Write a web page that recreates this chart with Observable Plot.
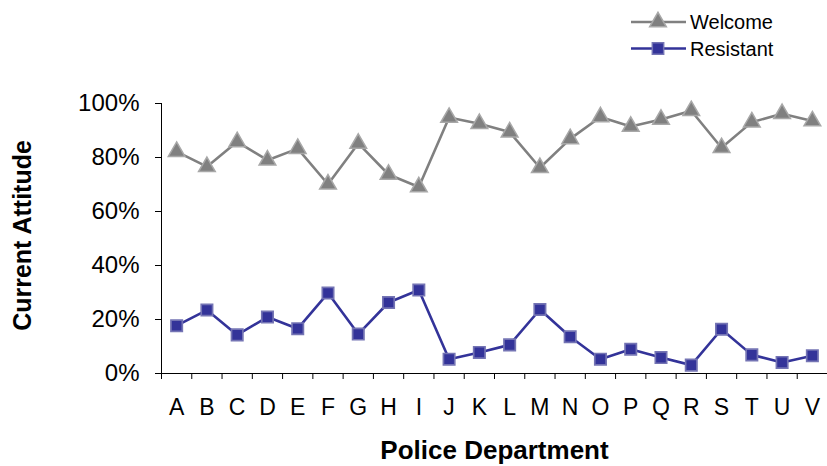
<!DOCTYPE html>
<html>
<head>
<meta charset="utf-8">
<script src="https://cdn.jsdelivr.net/npm/d3@7"></script>
<script src="https://cdn.jsdelivr.net/npm/@observablehq/plot@0.6"></script>
<style>
  html, body { margin: 0; padding: 0; background: #fff; }
  #wrap { position: relative; width: 827px; height: 466px; font-family: "Liberation Sans", Arial, sans-serif; }
  #legend { position: absolute; left: 628px; top: 6px; }
</style>
</head>
<body>
<div id="wrap">
  <div id="chart"></div>
  <div id="legend"></div>
</div>
<script>
const departments = ["A","B","C","D","E","F","G","H","I","J","K","L","M","N","O","P","Q","R","S","T","U","V"];
const welcome   = [82.2, 76.6, 85.8, 79.0, 83.3, 70.1, 85.2, 73.7, 69.1, 94.8, 92.5, 89.4, 76.2, 86.9, 95.0, 91.5, 94.1, 97.3, 83.6, 93.1, 96.2, 93.5];
const resistant = [17.7, 23.5, 14.3, 20.9, 16.6, 29.8, 14.6, 26.3, 30.9, 5.3, 7.8, 10.6, 23.7, 13.6, 5.3, 9.0, 5.9, 3.1, 16.4, 6.9, 4.1, 6.6];
const yTicks = [0, 20, 40, 60, 80, 100];
const seriesNames = ["Welcome", "Resistant"];

const welcomeRows = departments.map((d, i) => ({dept: d, pos: i + 0.5, value: welcome[i]}));
const resistantRows = departments.map((d, i) => ({dept: d, pos: i + 0.5, value: resistant[i]}));
const labelRows = departments.map((d, i) => ({dept: d, pos: i + 0.5}));

const GRAY = "#808080", GRAY_EDGE = "#a8a8a8";
const NAVY = "#333399", NAVY_EDGE = "#7474b4";
const TRI_R = 6.2, SQ_R = 6.4;

const chart = Plot.plot({
  width: 827,
  height: 466,
  marginLeft: 161,
  marginRight: 0,
  marginTop: 103,
  marginBottom: 93,
  style: {fontFamily: "'Liberation Sans', Arial, sans-serif", fontSize: "24px", color: "#000", background: "#fff"},
  x: {type: "linear", domain: [0, departments.length], ticks: d3.range(departments.length + 1), tickFormat: () => "", tickSize: 6, label: null},
  y: {domain: [0, 100], ticks: yTicks, tickFormat: d => d + "%", tickSize: 6, tickPadding: 16, label: null},
  marks: [
    Plot.ruleX([0], {stroke: "#000", strokeWidth: 1}),
    Plot.ruleY([0], {stroke: "#000", strokeWidth: 1}),
    Plot.line(welcomeRows, {x: "pos", y: "value", stroke: GRAY, strokeWidth: 2.6}),
    Plot.line(resistantRows, {x: "pos", y: "value", stroke: NAVY, strokeWidth: 2.6}),
    Plot.dot(welcomeRows, {x: "pos", y: "value", symbol: "triangle", r: TRI_R, fill: GRAY, stroke: GRAY_EDGE, strokeWidth: 1.5}),
    Plot.dot(resistantRows, {x: "pos", y: "value", symbol: "square", r: SQ_R, fill: NAVY, stroke: NAVY_EDGE, strokeWidth: 1.7}),
    Plot.text(labelRows, {x: "pos", text: "dept", frameAnchor: "bottom", lineAnchor: "middle", dy: 34, fontSize: 23, fill: "#000"}),
    Plot.text(["Police Department"], {frameAnchor: "bottom", textAnchor: "middle", lineAnchor: "middle", dy: 77, fontSize: 26, fontWeight: "bold", fill: "#000"}),
    Plot.text(["Current Attitude"], {frameAnchor: "left", textAnchor: "middle", lineAnchor: "middle", rotate: -90, dx: -139, dy: -3, fontSize: 25, fontWeight: "bold", fill: "#000"})
  ]
});
document.getElementById("chart").appendChild(chart);

// Legend
const lg = d3.select("#legend").append("svg").attr("width", 199).attr("height", 60)
  .style("font-family", "'Liberation Sans', Arial, sans-serif");
const items = [
  {name: seriesNames[0], color: GRAY, edge: GRAY_EDGE, sym: d3.symbolTriangle, size: Math.PI * TRI_R * TRI_R, y: 16},
  {name: seriesNames[1], color: NAVY, edge: NAVY_EDGE, sym: d3.symbolSquare, size: Math.PI * SQ_R * SQ_R, y: 42.5}
];
items.forEach(it => {
  lg.append("line").attr("x1", 3).attr("x2", 58).attr("y1", it.y).attr("y2", it.y)
    .attr("stroke", it.color).attr("stroke-width", 2.5);
  lg.append("path").attr("d", d3.symbol(it.sym, it.size)()).attr("transform", `translate(30,${it.y})`)
    .attr("fill", it.color).attr("stroke", it.edge).attr("stroke-width", 1.5);
  lg.append("text").attr("x", 62).attr("y", it.y).attr("dy", "0.35em").attr("font-size", 20).attr("fill", "#000").text(it.name);
});
</script>
</body>
</html>
